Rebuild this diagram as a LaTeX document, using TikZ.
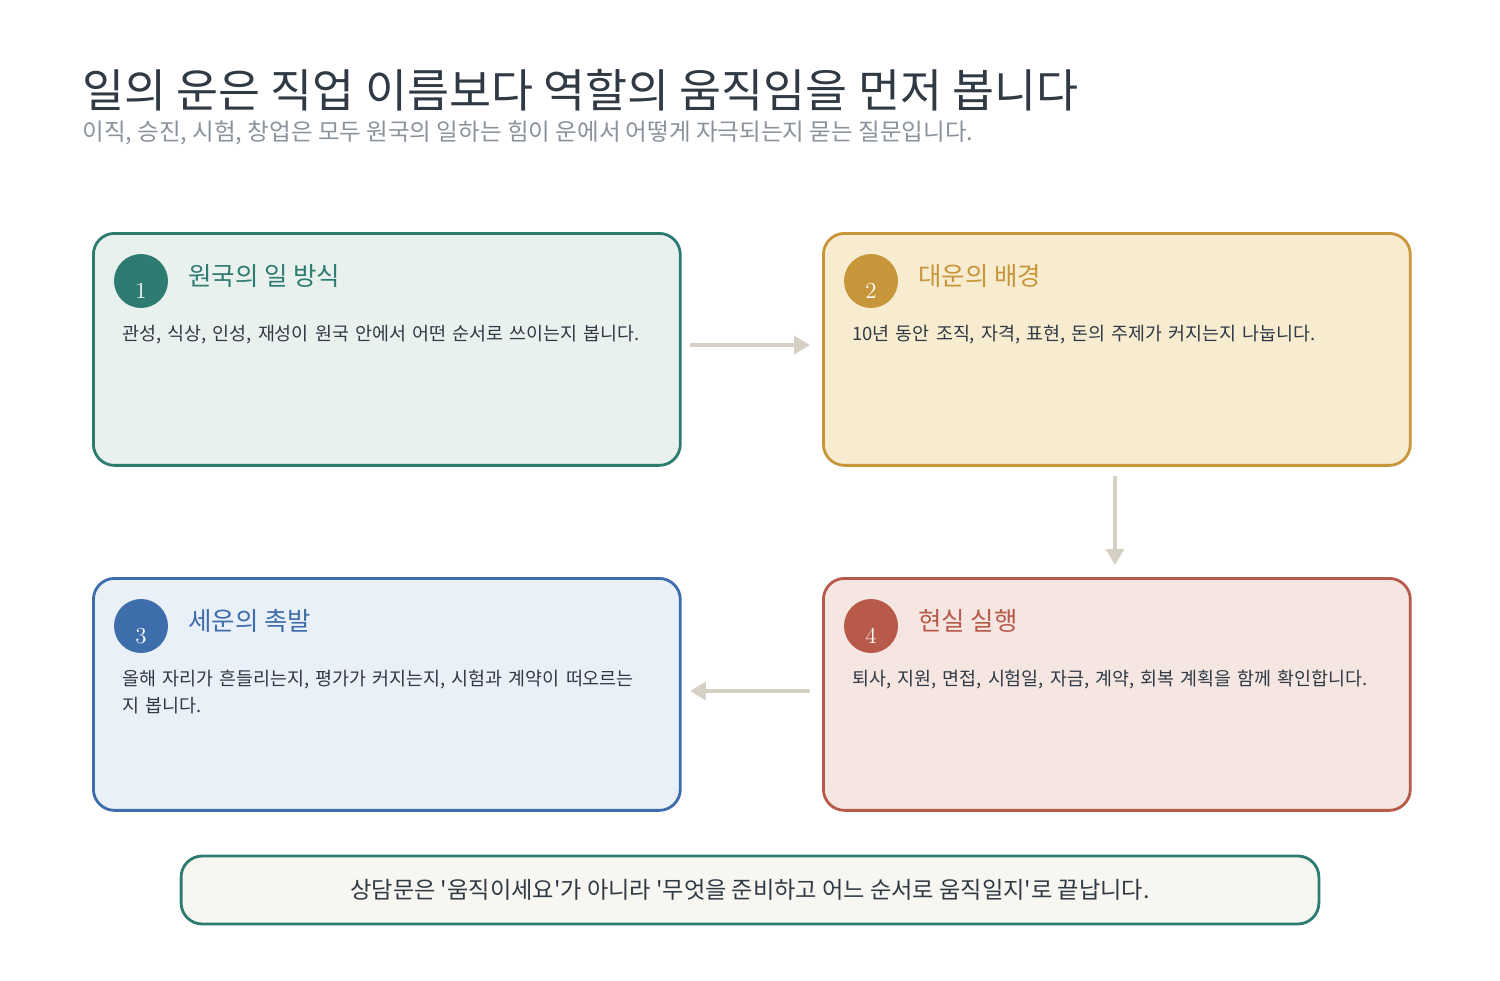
\documentclass[tikz,border=0pt]{standalone}
\usepackage{fontspec}
\setmainfont{Noto Sans CJK KR}
\newfontfamily\numfont{Latin Modern Roman}
\usetikzlibrary{positioning,arrows.meta}
\definecolor{ink}{HTML}{2F3A45}
\definecolor{subgray}{HTML}{8A929B}
\definecolor{tealc}{HTML}{2E7B72}
\definecolor{tealbg}{HTML}{E8F1EE}
\definecolor{goldc}{HTML}{C8963A}
\definecolor{goldbg}{HTML}{F7EBD0}
\definecolor{bluec}{HTML}{3D6DAA}
\definecolor{bluebg}{HTML}{EAF0F7}
\definecolor{redc}{HTML}{B85A4A}
\definecolor{redbg}{HTML}{F6E6E2}
\definecolor{arrowc}{HTML}{D6D0C4}
\definecolor{notebg}{HTML}{F7F6F0}
\newcommand{\sq}{\textquotesingle}
\tikzset{
  card/.style={draw=#1, line width=1.6pt, rounded corners=12pt, minimum width=11.74cm, minimum height=4.64cm, anchor=north west},
  badge/.style={circle, fill=#1, minimum size=1.08cm, inner sep=0pt},
  cardtitle/.style={anchor=west, inner sep=0pt, font=\fontsize{14.5}{17}\selectfont, text=#1},
  cardbody/.style={anchor=north west, font=\fontsize{10.5}{15}\selectfont, text=ink, text width=11cm, align=left, inner sep=0pt},
  flow/.style={draw=arrowc, line width=2.4pt, -{Triangle[length=9pt,width=10pt]}}
}
\begin{document}
\begin{tikzpicture}[x=0.02cm,y=-0.02cm]
\useasboundingbox[fill=white] (0,0) rectangle (1500,980);
% heading
\node[anchor=west, inner sep=0pt, text=ink, font=\fontsize{26}{30}\selectfont] (head) at (82,90) {일의 운은 직업 이름보다 역할의 움직임을 먼저 봅니다};
\node[anchor=west, inner sep=0pt, text=subgray, font=\fontsize{13.4}{16}\selectfont] (sub) at (82,133) {이직, 승진, 시험, 창업은 모두 원국의 일하는 힘이 운에서 어떻게 자극되는지 묻는 질문입니다.};
% cards
\node[card=tealc, fill=tealbg] (c1) at (92,232) {};
\node[card=goldc, fill=goldbg] (c2) at (822,232) {};
\node[card=bluec, fill=bluebg] (c3) at (92,577) {};
\node[card=redc, fill=redbg] (c4) at (822,577) {};
% badges
\node[badge=tealc] (b1) at (141,281) {};
\node[badge=goldc] (b2) at (871,281) {};
\node[badge=bluec] (b3) at (141,626) {};
\node[badge=redc] (b4) at (871,626) {};
\foreach \b/\n in {b1/1,b2/2,b3/3,b4/4}
  \node[text=white, font=\numfont\fontsize{13}{13}\selectfont] at ([yshift=-0.2cm]\b) {\n};
% titles
\node[cardtitle=tealc] (t1) at (188,276) {원국의 일 방식};
\node[cardtitle=goldc] (t2) at (918,276) {대운의 배경};
\node[cardtitle=bluec] (t3) at (188,621) {세운의 촉발};
\node[cardtitle=redc] (t4) at (918,621) {현실 실행};
% bodies
\node[cardbody] (d1) at (122,325) {관성, 식상, 인성, 재성이 원국 안에서 어떤 순서로 쓰이는지 봅니다.};
\node[cardbody] (d2) at (852,325) {10년 동안 조직, 자격, 표현, 돈의 주제가 커지는지 나눕니다.};
\node[cardbody] (d3) at (122,670) {올해 자리가 흔들리는지, 평가가 커지는지, 시험과 계약이 떠오르는\\지 봅니다.};
\node[cardbody] (d4) at (852,670) {퇴사, 지원, 면접, 시험일, 자금, 계약, 회복 계획을 함께 확인합니다.};
% arrows
\draw[flow] (690,345) -- (810,345);
\draw[flow] (1115,476) -- (1115,565);
\draw[flow] (810,691) -- (690,691);
% closing note
\node[draw=tealc, fill=notebg, line width=1.6pt, rounded corners=12pt, minimum width=22.76cm, minimum height=1.36cm, text=ink, font=\fontsize{13.2}{15}\selectfont] (note) at (750,890) {\raisebox{-2pt}{상담문은 \sq 움직이세요\sq 가 아니라 \sq 무엇을 준비하고 어느 순서로 움직일지\sq 로 끝납니다.}};
\end{tikzpicture}
\end{document}
